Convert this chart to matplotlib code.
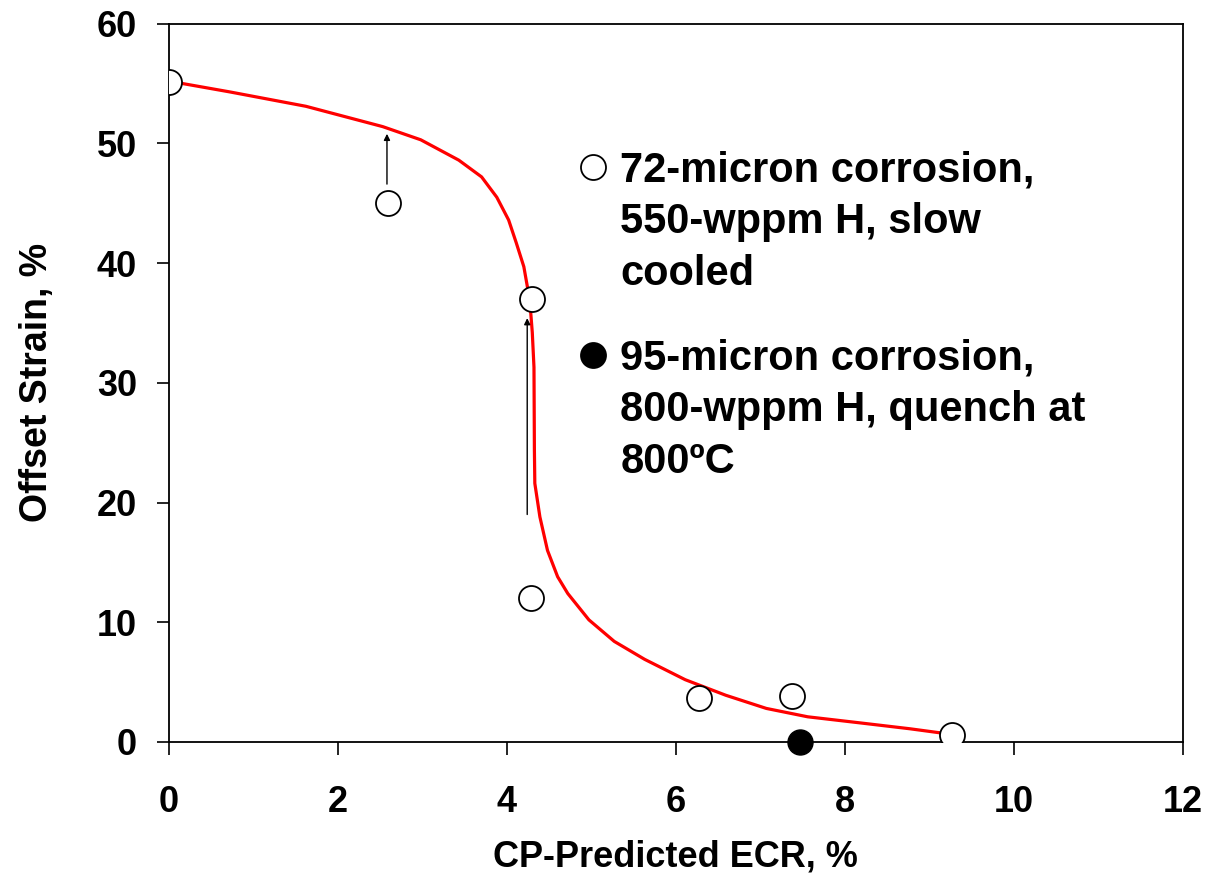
import matplotlib.pyplot as plt
import numpy as np

plt.rcParams['font.family'] = ['Liberation Sans', 'DejaVu Sans']
plt.rcParams['font.weight'] = 'bold'

# open circles: 72-micron corrosion, 550-wppm H, slow cooled
ecr_slow = [0.0, 2.59, 4.30, 4.28, 6.27, 7.37, 9.27]
strain_slow = [55.1, 45.0, 37.0, 12.0, 3.7, 3.8, 0.6]

# filled circle: 95-micron corrosion, 800-wppm H, quench at 800C
ecr_quench = [7.47]
strain_quench = [0.0]

# red trend curve
curve_x = [0.0, 0.72, 1.62, 2.53, 2.98, 3.43, 3.70, 3.88, 4.02, 4.11, 4.20, 4.27,
           4.30, 4.32, 4.325, 4.33, 4.39, 4.48, 4.60, 4.72, 4.97, 5.27, 5.63, 6.11,
           6.59, 7.07, 7.56, 8.17, 8.77, 9.19]
curve_y = [55.2, 54.3, 53.1, 51.4, 50.3, 48.6, 47.2, 45.5, 43.6, 41.7, 39.7, 36.9,
           34.2, 31.3, 24.4, 21.6, 18.8, 16.0, 13.8, 12.4, 10.2, 8.4, 6.9, 5.2,
           3.9, 2.8, 2.1, 1.6, 1.1, 0.7]

# arrows (x, start y, end y)
arrows_x = [2.58, 4.24]
arrows_y0 = [46.6, 19.0]
arrows_y1 = [50.8, 35.4]

fig = plt.figure(figsize=(12.07, 8.77), dpi=100)
ax = fig.add_axes([0.140, 0.154, 0.840, 0.819])

ax.plot(curve_x, curve_y, color='red', linewidth=2.3, zorder=2)

for x, y0, y1 in zip(arrows_x, arrows_y0, arrows_y1):
    ax.annotate('', xy=(x, y1), xytext=(x, y0),
                arrowprops=dict(arrowstyle='-|>', color='black', lw=1.0,
                                mutation_scale=9, shrinkA=0, shrinkB=0))

ax.plot(ecr_slow, strain_slow, 'o', markersize=18, markerfacecolor='white',
        markeredgecolor='black', markeredgewidth=1.3, linestyle='none', zorder=3)
ax.plot(ecr_quench, strain_quench, 'o', markersize=18, markerfacecolor='black',
        markeredgecolor='black', linestyle='none', zorder=3, clip_on=False)

ax.set_xlim(0, 12)
ax.set_ylim(0, 60)
ax.set_xticks(np.arange(0, 13, 2))
ax.set_yticks(np.arange(0, 61, 10))
ax.tick_params(direction='out', length=9, width=1.2, labelsize=26)
ax.tick_params(axis='x', pad=22)
ax.tick_params(axis='y', pad=14)
for s in ax.spines.values():
    s.set_linewidth(1.3)

ax.set_xlabel('CP-Predicted ECR, %', fontsize=26, fontweight='bold', labelpad=14)
ax.set_ylabel('Offset Strain, %', fontsize=27, fontweight='bold', labelpad=30)

# legend drawn by hand so the marker sits on the first line
leg_labels = ['72-micron corrosion,\n550-wppm H, slow\ncooled',
              '95-micron corrosion,\n800-wppm H, quench at\n800ºC']
leg_faces = ['white', 'black']
leg_y = [0.801, 0.539]
for lab, fc, y in zip(leg_labels, leg_faces, leg_y):
    ax.plot([0.418], [y], 'o', markersize=18, markerfacecolor=fc,
            markeredgecolor='black', markeredgewidth=1.3, transform=ax.transAxes)
    ax.text(0.445, y + 0.023, lab, transform=ax.transAxes, fontsize=30,
            fontweight='bold', va='top', ha='left', linespacing=1.38)

fig.savefig('out.png', dpi=100)
